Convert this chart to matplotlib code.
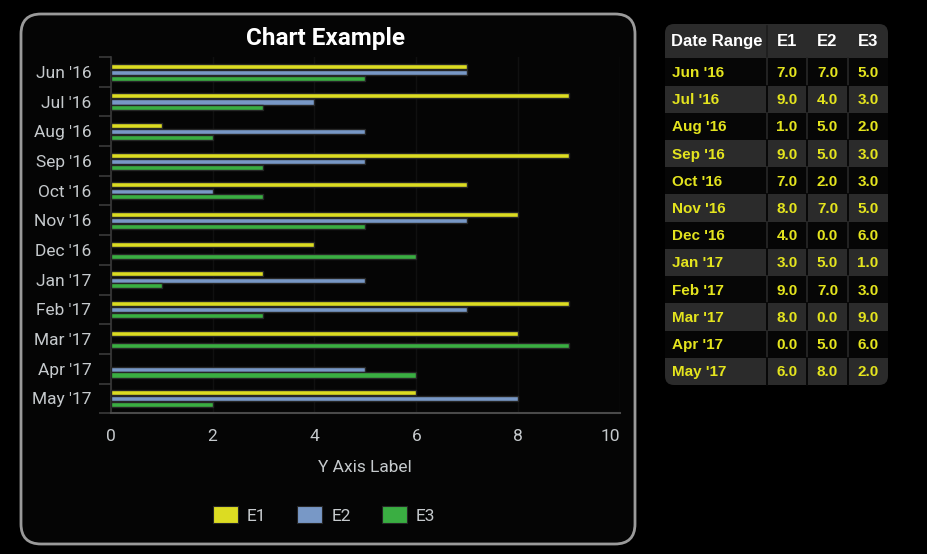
import matplotlib
matplotlib.use("Agg")
import matplotlib.pyplot as plt
from matplotlib.patches import FancyBboxPatch, Rectangle
from matplotlib.ticker import FixedLocator
import numpy as np

# ---------------- data ----------------
categories = ["Jun '16", "Jul '16", "Aug '16", "Sep '16", "Oct '16", "Nov '16",
              "Dec '16", "Jan '17", "Feb '17", "Mar '17", "Apr '17", "May '17"]
series_names = ["E1", "E2", "E3"]
e1 = [7, 9, 1, 9, 7, 8, 4, 3, 9, 8, 0, 6]
e2 = [7, 4, 5, 5, 2, 7, 0, 5, 7, 0, 5, 8]
e3 = [5, 3, 2, 3, 3, 5, 6, 1, 3, 9, 6, 2]
x_ticks = [0, 2, 4, 6, 8, 10]
title = "Chart Example"
x_label = "Y Axis Label"
table_header = ["Date Range", "E1", "E2", "E3"]

# ---------------- style ----------------
W, H = 927, 554
colors = ["#dcdc22", "#7898c6", "#3aae42"]
edge = "#262626"
label_col = "#c6cacd"
font = "Roboto"

fig = plt.figure(figsize=(W / 100, H / 100), dpi=100)
fig.patch.set_facecolor("black")

# overlay axes in pixel coordinates (for panel + table)
ov = fig.add_axes([0, 0, 1, 1], zorder=0)
ov.set_xlim(0, W)
ov.set_ylim(H, 0)
ov.axis("off")
ov.set_facecolor("black")

# chart panel
panel = FancyBboxPatch((21, 14), 614, 530, boxstyle="round,pad=0,rounding_size=20",
                       facecolor="#050505", edgecolor="#9a9a9a", linewidth=2.0)
ov.add_patch(panel)

# ---------------- chart ----------------
ax = fig.add_axes([110.7 / W, 1 - 413.3 / H, (620 - 110.7) / W, (413.3 - 57) / H], zorder=1)
ax.set_facecolor("none")
y = np.arange(len(categories))
offsets = [-0.195, 0.015, 0.21]
bars = []
for vals, off, c in zip([e1, e2, e3], offsets, colors):
    lw = [0 if v == 0 else 1.0 for v in vals]
    b = ax.barh(y + off, vals, height=0.17, color=c, edgecolor=edge, linewidth=lw, zorder=3)
    bars.append(b)

ax.set_xlim(0, 10)
ax.set_ylim(len(categories) - 0.5, -0.5)
ax.xaxis.set_major_locator(FixedLocator(x_ticks))
ax.set_xticklabels([str(t) for t in x_ticks], fontfamily=font, fontsize=12.5, color=label_col)
ax.get_xticklabels()[-1].set_horizontalalignment("right")
ax.tick_params(axis="x", length=0, pad=11)
ax.set_yticks(y)
ax.set_yticklabels(categories, fontfamily=font, fontsize=12.5, color=label_col)
ax.yaxis.set_minor_locator(FixedLocator(np.arange(-0.5, len(categories), 1.0)))
ax.tick_params(axis="y", which="major", length=0, pad=14)
ax.tick_params(axis="y", which="minor", length=9, width=1.2, color="#3a3a3a")
for s in ["top", "right"]:
    ax.spines[s].set_visible(False)
ax.spines["left"].set_color("#3a3a3a")
ax.spines["left"].set_linewidth(1.2)
ax.spines["bottom"].set_color("#4a4a4a")
ax.spines["bottom"].set_linewidth(1.5)
ax.grid(axis="x", color="#101010", linewidth=1, zorder=0)
ax.set_axisbelow(True)
ax.set_xlabel(x_label, fontfamily=font, fontsize=12.5, color=label_col, labelpad=12)

fig.text(325 / W, 1 - 38 / H, title, ha="center", va="center", fontfamily=font,
         fontsize=17.5, fontweight="bold", color="white")

leg = fig.legend([b[0] for b in bars], series_names, loc="center",
                 bbox_to_anchor=(324 / W, 1 - 515 / H), ncol=3, frameon=False,
                 prop={"family": font, "size": 12.5}, handlelength=1.45, handleheight=1.1,
                 handletextpad=0.5, columnspacing=1.8)
for t in leg.get_texts():
    t.set_color(label_col)
for h in leg.legend_handles:
    h.set_linewidth(0.8)

# ---------------- table ----------------
tx0, tx1 = 665, 888
col_edges = [665, 767, 807, 848, 888]
head_top, head_bot = 24, 58.3
row_h = (385 - head_bot) / len(categories)
gray = "#2b2b2b"
dark = "#060606"

ov.add_patch(FancyBboxPatch((tx0, head_top), tx1 - tx0, 385 - head_top,
                            boxstyle="round,pad=0,rounding_size=9",
                            facecolor=gray, edgecolor="none", zorder=2))
# header separator
ov.plot([col_edges[1], col_edges[1]], [head_top + 2, head_bot], color="#1c1c1c", lw=1.2, zorder=3)
tfont = "Liberation Sans"
for i, h in enumerate(table_header):
    if i == 0:
        ov.text(671, (head_top + head_bot) / 2 + 0.5, h, ha="left", va="center", color="white",
                fontfamily=tfont, fontweight="bold", fontsize=12, zorder=4)
    else:
        ov.text((col_edges[i] + col_edges[i + 1]) / 2, (head_top + head_bot) / 2 + 0.5, h,
                ha="center", va="center", color="white", fontfamily=tfont,
                fontweight="bold", fontsize=12, zorder=4)

ycol = "#e4e41e"
for r, cat in enumerate(categories):
    top = head_bot + r * row_h
    is_dark = (r % 2 == 0)
    if is_dark:
        ov.add_patch(Rectangle((tx0, top), tx1 - tx0, row_h, facecolor=dark,
                               edgecolor="none", zorder=2.5))
    sep_c = "#262626" if is_dark else "#050505"
    for xe in col_edges[1:-1]:
        ov.plot([xe, xe], [top, top + row_h], color=sep_c, lw=1.3, zorder=3)
    cy = top + row_h / 2 + 1
    ov.text(672, cy, cat, ha="left", va="center", color=ycol, fontfamily=tfont,
            fontweight="bold", fontsize=11, zorder=4)
    for j, vals in enumerate([e1, e2, e3]):
        ov.text((col_edges[j + 1] + col_edges[j + 2]) / 2, cy, f"{vals[r]:.1f}",
                ha="center", va="center", color=ycol, fontfamily=tfont,
                fontweight="bold", fontsize=11, zorder=4)

fig.savefig("out.png", dpi=100, facecolor=fig.get_facecolor())
